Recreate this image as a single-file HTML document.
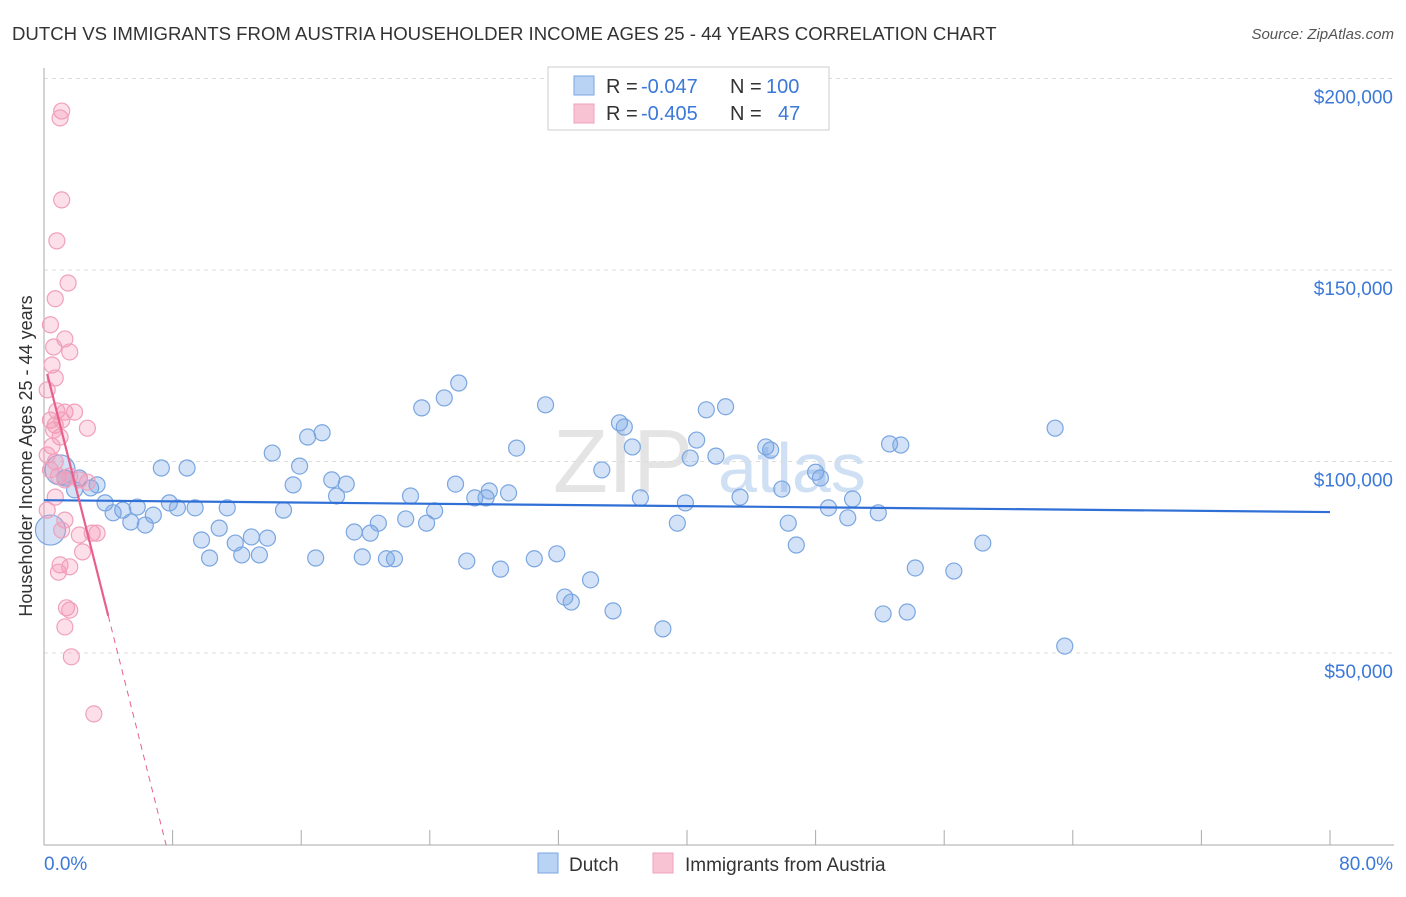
<!DOCTYPE html>
<html><head><meta charset="utf-8"><style>
body{margin:0;background:#fff;font-family:"Liberation Sans",sans-serif;}
svg text{font-family:"Liberation Sans",sans-serif;}
</style></head><body>
<svg id="chart" width="1406" height="892" xmlns="http://www.w3.org/2000/svg">
<text x="12" y="40" font-size="18.6" fill="#333">DUTCH VS IMMIGRANTS FROM AUSTRIA HOUSEHOLDER INCOME AGES 25 - 44 YEARS CORRELATION CHART</text>
<text x="1394" y="39" font-size="15" fill="#555" font-style="italic" text-anchor="end">Source: ZipAtlas.com</text>
<text x="32" y="456" font-size="18" fill="#333" text-anchor="middle" transform="rotate(-90 32 456)">Householder Income Ages 25 - 44 years</text>
<text x="553" y="492" font-size="90" fill="#e4e4e4" font-family="Liberation Serif">ZIP<tspan x="718" fill="#cfe0f5" font-family="Liberation Sans" font-size="70">atlas</tspan></text>
<g id="grid"></g><g id="axes"></g><g id="marks"></g>
<g>
<rect x="548" y="67" width="281" height="63" fill="#fff" stroke="#ccc"/>
<rect x="574" y="76" width="20" height="19" fill="#b9d3f5" stroke="#7aa6e0"/>
<rect x="574" y="104" width="20" height="19" fill="#f8c4d4" stroke="#f0a0bb"/>
<text y="93" font-size="20" fill="#333"><tspan x="606">R =</tspan><tspan x="641" fill="#3b78d8">-0.047</tspan><tspan x="730">N =</tspan><tspan x="766" fill="#3b78d8">100</tspan></text>
<text y="120" font-size="20" fill="#333"><tspan x="606">R =</tspan><tspan x="641" fill="#3b78d8">-0.405</tspan><tspan x="730">N =</tspan><tspan x="778" fill="#3b78d8">47</tspan></text>
</g>
<g>
<rect x="538" y="853" width="20" height="20" fill="#b9d3f5" stroke="#7aa6e0"/>
<text x="569" y="871" font-size="19" fill="#333">Dutch</text>
<rect x="653" y="853" width="20" height="20" fill="#f8c4d4" stroke="#f0a0bb"/>
<text x="685" y="871" font-size="19" fill="#333">Immigrants from Austria</text>
</g>
</svg>
<script>
const yTicks=[50000,100000,150000,200000];
const yTickLabels=["$50,000","$100,000","$150,000","$200,000"];
const xLabels=["0.0%","80.0%"];
const dutchX=[0.4,1.0,1.3,2.2,1.9,2.9,3.3,3.8,4.3,4.9,5.4,5.8,6.3,6.8,7.3,7.8,8.3,8.9,9.4,9.8,10.3,10.9,11.4,11.9,12.3,12.9,13.4,13.9,14.2,14.9,15.5,15.9,16.4,16.9,17.3,17.9,18.2,18.8,19.3,19.8,20.3,20.8,21.3,21.8,22.5,22.8,23.5,23.8,24.3,24.9,25.6,25.8,26.3,26.8,27.5,27.7,28.4,28.9,29.4,30.5,31.2,31.9,32.4,32.8,34.0,34.7,35.4,35.8,36.1,36.6,37.1,38.5,39.4,39.9,40.2,40.6,41.2,41.8,42.4,43.3,44.9,45.2,45.9,46.3,46.8,48.0,48.3,48.8,50.0,50.3,51.9,52.2,52.6,53.3,53.7,54.2,56.6,58.4,62.9,63.5];
const dutchY=[82.1,97.8,95.7,95.7,92.6,93.1,93.9,89.2,86.6,87.3,84.2,88.1,83.4,86.0,98.3,89.2,87.9,98.3,87.9,79.5,74.8,82.6,87.9,78.7,75.6,80.3,75.6,80.0,102.2,87.3,93.9,98.8,106.4,74.8,107.5,95.2,91.0,94.1,81.6,75.1,81.3,83.9,74.6,74.6,85.0,91.0,114.0,83.9,87.1,116.6,94.1,120.5,74.0,90.5,90.5,92.3,71.9,91.8,103.5,74.6,114.8,75.9,64.6,63.3,69.1,97.8,61.0,110.1,109.0,103.8,90.5,56.3,83.9,89.2,100.9,105.6,113.5,101.4,114.3,90.7,103.8,103.0,92.8,83.9,78.2,97.2,95.7,87.9,85.3,90.2,86.6,60.2,104.6,104.3,60.7,72.2,71.4,78.7,108.7,51.8];
const austriaX=[1.1,1.0,1.1,0.8,1.5,0.7,0.4,1.3,1.6,0.6,0.5,0.7,0.2,0.8,1.3,1.9,0.4,0.7,1.0,2.7,0.5,0.2,0.9,1.3,2.7,0.7,1.3,2.2,3.0,3.3,2.4,1.0,1.6,0.9,1.4,1.6,1.3,1.7,3.1,0.2,0.6,1.6,1.1,0.4,0.7,2.2,1.1];
const austriaY=[191.5,189.7,168.3,157.6,146.6,142.5,135.7,132.0,128.6,129.9,125.2,121.8,118.7,113.2,112.9,112.9,110.8,109.5,106.4,108.7,104.0,101.7,96.2,95.2,94.6,90.7,84.7,80.8,81.3,81.3,76.4,73.0,72.5,71.1,61.8,61.2,56.8,49.0,34.1,87.3,108.2,96.2,82.1,97.8,99.9,95.2,110.8];
const dutchTrend=[89.9,86.8]; // $k at 0% and 80%
const austriaTrend=[126.2,-16.63]; // intercept $k, slope per %
const NS="http://www.w3.org/2000/svg";
const X=p=>44+p/80*1286, Y=k=>844.5-k/50*191.5, Yv=v=>844.5-v/50000*191.5;
function mk(tag,attrs,parent){const e=document.createElementNS(NS,tag);for(const k in attrs)e.setAttribute(k,attrs[k]);parent.appendChild(e);return e;}
const grid=document.getElementById('grid'),axes=document.getElementById('axes'),marks=document.getElementById('marks');
yTicks.forEach((v,i)=>{
 const l=mk('line',{x1:44,x2:1394,y1:Yv(v),y2:Yv(v),stroke:'#ddd','stroke-dasharray':'4,4'},grid);
 
 
 const t=mk('text',{x:1393,y:Yv(v)+25,'font-size':19,fill:'#3b78d8','text-anchor':'end'},axes);
 t.textContent=yTickLabels[i];
 
 
});
mk('line',{x1:44,x2:44,y1:68,y2:845,stroke:'#aaa'},axes);
mk('line',{x1:44,x2:1394,y1:845,y2:845,stroke:'#aaa'},axes);
for(let k=1;k<=10;k++){mk('line',{x1:X(k*8),x2:X(k*8),y1:830,y2:845,stroke:'#aaa'},axes);}
const xl0=mk('text',{x:44,y:870,'font-size':19,fill:'#3b78d8'},axes);xl0.textContent=xLabels[0];


const xl1=mk('text',{x:1393,y:870,'font-size':19,fill:'#3b78d8','text-anchor':'end'},axes);xl1.textContent=xLabels[1];


dutchX.forEach((x,i)=>{
 const c=mk('circle',{cx:X(x),cy:Y(dutchY[i]),r:i<2?15:8,fill:'rgba(110,160,230,0.3)',stroke:'#7aa6e0','stroke-width':1.2},marks);
 
 
});
austriaX.forEach((x,i)=>{
 const c=mk('circle',{cx:X(x),cy:Y(austriaY[i]),r:8,fill:'rgba(245,150,180,0.3)',stroke:'#f0a0bb','stroke-width':1.2},marks);
 
 
});
const bl=mk('line',{x1:X(0),y1:Y(dutchTrend[0]),x2:X(80),y2:Y(dutchTrend[1]),stroke:'#2f6fd6','stroke-width':2.2},marks);


const pa=x=>austriaTrend[0]+austriaTrend[1]*x;
const pl=mk('line',{x1:X(0.2),y1:Y(pa(0.2)),x2:X(4),y2:Y(pa(4)),stroke:'#e8608a','stroke-width':2.2},marks);


const pd=mk('line',{x1:X(4),y1:Y(pa(4)),x2:X(7.6),y2:Y(pa(7.6)),stroke:'#e8608a','stroke-width':1,'stroke-dasharray':'6,5'},marks);


</script>
</body></html>
